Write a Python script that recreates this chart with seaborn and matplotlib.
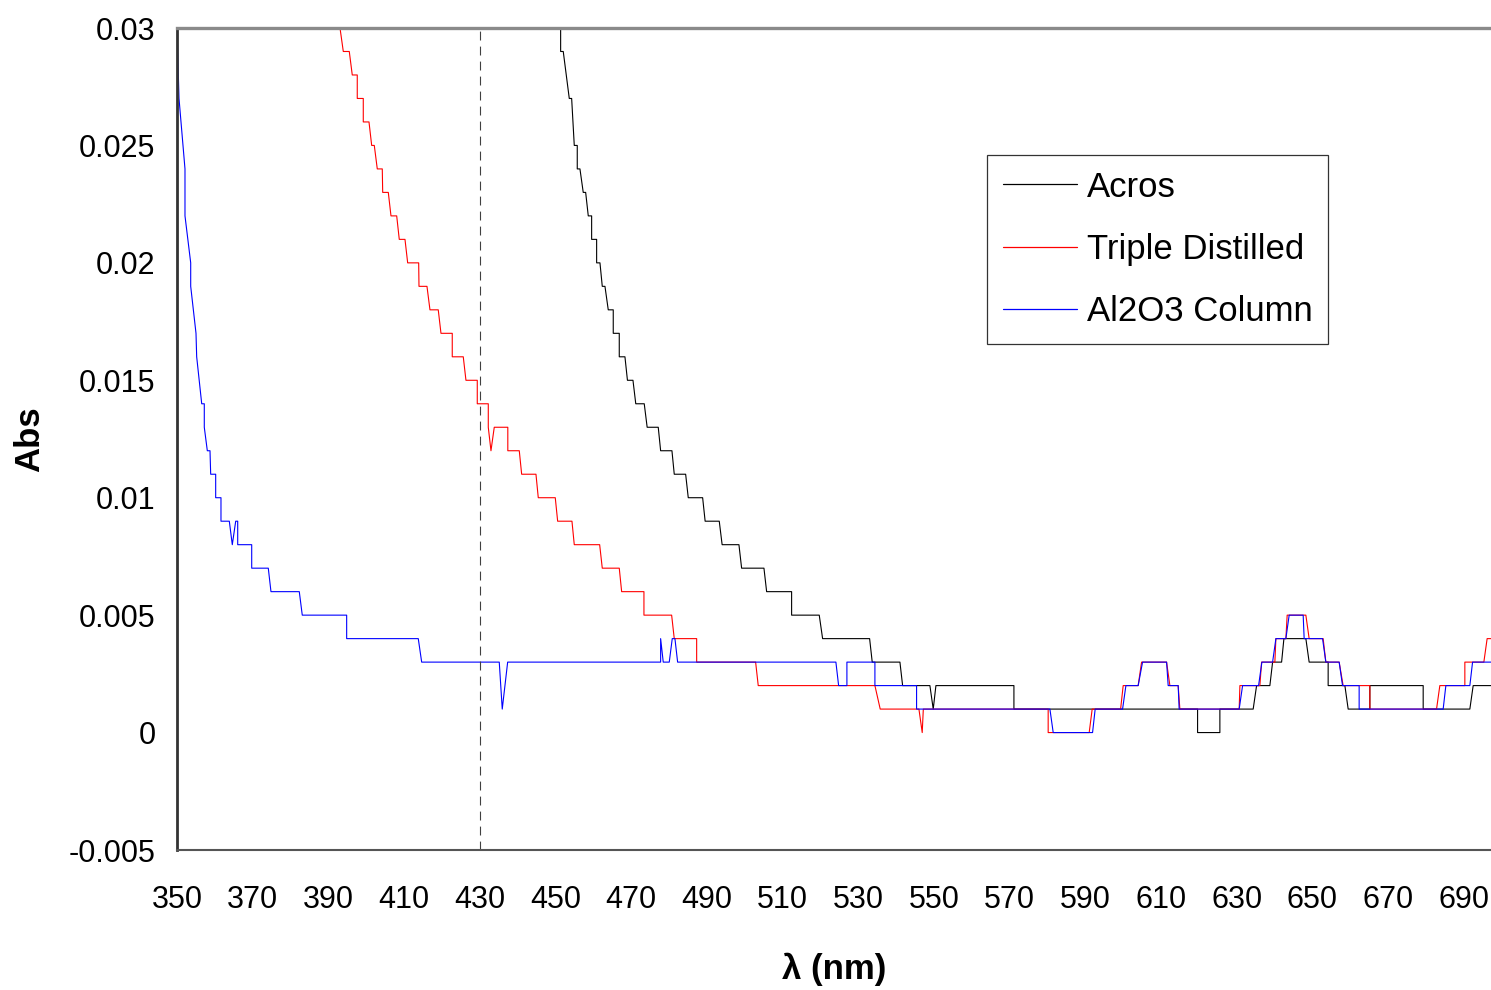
import pandas as pd
import numpy as np
import matplotlib.pyplot as plt
import seaborn as sns
from matplotlib.lines import Line2D

# -----------------------------
# Data: corner points of the stepped spectra (nm, Abs)
# -----------------------------
acros_nm = [451.37, 451.37, 452.06, 453.65, 454.28, 454.97, 455.76, 455.76, 456.47, 457.34,
            457.98, 458.67, 459.56, 459.56, 460.88, 460.88, 461.76, 462.37, 463.08, 463.95,
            465.27, 465.27, 466.86, 466.86, 468.36, 469.02, 470.48, 471.22, 473.46, 474.23,
            477.16, 477.79, 480.78, 481.39, 484.40, 485.09, 488.89, 489.55, 493.28, 494.04,
            498.48, 499.19, 505.09, 505.80, 512.40, 512.40, 519.70, 520.59, 533.01, 533.70,
            541.02, 541.73, 548.94, 549.82, 550.53, 571.14, 571.14, 619.67, 619.67, 625.56,
            625.56, 634.36, 635.26, 638.77, 639.49, 641.87, 642.48, 648.28, 649.15, 654.17,
            654.17, 658.59, 659.46, 665.19, 665.19, 679.28, 679.28, 691.61, 692.49, 697.2]
acros_abs = [0.030, 0.029, 0.029, 0.027, 0.027, 0.025, 0.025, 0.024, 0.024, 0.023,
             0.023, 0.022, 0.022, 0.021, 0.021, 0.020, 0.020, 0.019, 0.019, 0.018,
             0.018, 0.017, 0.017, 0.016, 0.016, 0.015, 0.015, 0.014, 0.014, 0.013,
             0.013, 0.012, 0.012, 0.011, 0.011, 0.010, 0.010, 0.009, 0.009, 0.008,
             0.008, 0.007, 0.007, 0.006, 0.006, 0.005, 0.005, 0.004, 0.004, 0.003,
             0.003, 0.002, 0.002, 0.001, 0.002, 0.002, 0.001, 0.001, 0.000, 0.000,
             0.001, 0.001, 0.002, 0.002, 0.003, 0.003, 0.004, 0.004, 0.003, 0.003,
             0.002, 0.002, 0.001, 0.001, 0.002, 0.002, 0.001, 0.001, 0.002, 0.002]

triple_nm = [393.07, 393.94, 395.52, 396.31, 397.63, 397.63, 399.22, 399.22, 400.73, 401.44,
             402.13, 402.92, 404.24, 404.35, 405.83, 406.54, 408.05, 408.73, 410.24, 410.95,
             413.86, 413.94, 416.05, 416.84, 419.03, 419.75, 422.73, 422.73, 425.64, 426.35,
             429.34, 429.34, 432.25, 432.25, 432.96, 433.83, 437.41, 437.41, 440.44, 441.07,
             444.85, 445.46, 449.95, 450.58, 454.36, 454.97, 461.68, 462.37, 466.86, 467.49,
             473.38, 473.38, 480.70, 481.39, 487.31, 487.31, 502.89, 503.58, 534.41, 535.81,
             546.04, 546.91, 547.20, 580.19, 580.19, 591.03, 591.82, 599.33, 600.01, 603.97,
             604.87, 611.48, 612.35, 614.54, 614.99, 630.66, 630.85, 636.13, 636.58, 640.09,
             640.36, 643.00, 643.34, 648.28, 649.15, 652.85, 653.56, 657.08, 658.13, 665.19,
             665.19, 682.81, 683.68, 690.29, 690.29, 695.31, 696.18, 697.2]
triple_abs = [0.030, 0.029, 0.029, 0.028, 0.028, 0.027, 0.027, 0.026, 0.026, 0.025,
              0.025, 0.024, 0.024, 0.023, 0.023, 0.022, 0.022, 0.021, 0.021, 0.020,
              0.020, 0.019, 0.019, 0.018, 0.018, 0.017, 0.017, 0.016, 0.016, 0.015,
              0.015, 0.014, 0.014, 0.013, 0.012, 0.013, 0.013, 0.012, 0.012, 0.011,
              0.011, 0.010, 0.010, 0.009, 0.009, 0.008, 0.008, 0.007, 0.007, 0.006,
              0.006, 0.005, 0.005, 0.004, 0.004, 0.003, 0.003, 0.002, 0.002, 0.001,
              0.001, 0.000, 0.001, 0.001, 0.000, 0.000, 0.001, 0.001, 0.002, 0.002,
              0.003, 0.003, 0.002, 0.002, 0.001, 0.001, 0.002, 0.002, 0.003, 0.003,
              0.004, 0.004, 0.005, 0.005, 0.004, 0.004, 0.003, 0.003, 0.002, 0.002,
              0.001, 0.001, 0.002, 0.002, 0.003, 0.003, 0.004, 0.004]

column_nm = [350.00, 350.53, 352.11, 352.11, 353.62, 353.62, 355.02, 355.20, 356.53, 357.21,
             357.21, 358.01, 358.72, 358.90, 360.22, 360.22, 361.62, 361.62, 363.82, 364.61,
             365.51, 366.04, 366.04, 369.74, 369.74, 374.12, 374.83, 382.31, 383.10, 394.83,
             394.83, 413.75, 414.65, 435.15, 435.94, 437.37, 477.79, 477.79, 478.48, 480.07,
             480.86, 481.57, 482.28, 524.10, 524.82, 527.01, 527.01, 534.41, 534.41, 545.42,
             545.42, 580.65, 581.52, 591.92, 592.61, 599.85, 600.73, 603.97, 605.13, 611.48,
             611.90, 614.54, 614.80, 630.66, 631.56, 635.79, 636.66, 639.49, 640.36, 643.00,
             643.87, 647.57, 647.83, 652.69, 653.56, 657.08, 657.97, 662.36, 662.36, 684.56,
             685.27, 691.61, 692.33, 697.2]
column_abs = [0.030, 0.027, 0.024, 0.022, 0.020, 0.019, 0.017, 0.016, 0.014, 0.014,
              0.013, 0.012, 0.012, 0.011, 0.011, 0.010, 0.010, 0.009, 0.009, 0.008,
              0.009, 0.009, 0.008, 0.008, 0.007, 0.007, 0.006, 0.006, 0.005, 0.005,
              0.004, 0.004, 0.003, 0.003, 0.001, 0.003, 0.003, 0.004, 0.003, 0.003,
              0.004, 0.004, 0.003, 0.003, 0.002, 0.002, 0.003, 0.003, 0.002, 0.002,
              0.001, 0.001, 0.000, 0.000, 0.001, 0.001, 0.002, 0.002, 0.003, 0.003,
              0.002, 0.002, 0.001, 0.001, 0.002, 0.002, 0.003, 0.003, 0.004, 0.004,
              0.005, 0.005, 0.004, 0.004, 0.003, 0.003, 0.002, 0.002, 0.001, 0.001,
              0.002, 0.002, 0.003, 0.003]

series_names = ["Acros", "Triple Distilled", "Al2O3 Column"]
series_colors = ["black", "#FF0000", "#0000FF"]
x_ticks = list(range(350, 691, 20))
y_ticks = [-0.005, 0.0, 0.005, 0.01, 0.015, 0.02, 0.025, 0.03]
marker_nm = 430

# -----------------------------
# Long-form table for seaborn
# -----------------------------
frames = []
for name, xs, ys in zip(series_names,
                        [acros_nm, triple_nm, column_nm],
                        [acros_abs, triple_abs, column_abs]):
    frames.append(pd.DataFrame({"nm": xs, "abs": ys, "series": name,
                                "order": np.arange(len(xs))}))
df = pd.concat(frames, ignore_index=True)

# -----------------------------
# Plot
# -----------------------------
sns.set_style("white")
plt.rcParams['font.family'] = ['Liberation Sans', 'DejaVu Sans']
plt.rcParams['text.color'] = 'black'
plt.rcParams['axes.labelcolor'] = 'black'

fig = plt.figure(figsize=(14.91, 9.9), dpi=100)
ax = fig.add_axes([177 / 1491, 1 - 850 / 990, 1 - 177 / 1491, (850 - 28) / 990])

for name, color in zip(series_names, series_colors):
    sub = df[df["series"] == name]
    sns.lineplot(data=sub, x="nm", y="abs", sort=False, estimator=None,
                 color=color, linewidth=0.8, ax=ax, legend=False)

ax.axvline(marker_nm, color="#404040", linewidth=0.8, linestyle=(0, (8, 5.5)))

ax.set_xlim(350, 697.2)
ax.set_ylim(-0.005, 0.03)
ax.set_xticks(x_ticks)
ax.set_yticks(y_ticks)
ax.set_yticklabels([f"{v:g}" for v in y_ticks])
ax.tick_params(axis="both", direction="out", length=6.5, width=1.2,
               color="#404040", labelsize=22, labelcolor="black")
ax.tick_params(axis="x", pad=19)
ax.tick_params(axis="y", pad=9)
ax.grid(False)

ax.spines["right"].set_visible(False)
ax.spines["top"].set_color("#8a8a8a")
ax.spines["top"].set_linewidth(2.4)
ax.spines["left"].set_color("#333333")
ax.spines["left"].set_linewidth(2.0)
ax.spines["bottom"].set_color("#555555")
ax.spines["bottom"].set_linewidth(1.5)

ax.set_xlabel("λ (nm)", fontsize=25, fontweight="bold", labelpad=27, color="black")
ax.set_ylabel("Abs", fontsize=25, fontweight="bold", labelpad=16, color="black")

handles = [Line2D([0], [0], color=c, linewidth=0.9) for c in series_colors]
leg = ax.legend(handles, series_names, loc="upper left",
                bbox_to_anchor=(0.6164, 0.8455), borderaxespad=0,
                fontsize=25, frameon=True, fancybox=False,
                handlelength=2.15, handletextpad=0.27, labelspacing=0.84,
                borderpad=0.45, labelcolor="black")
leg.get_frame().set_edgecolor("black")
leg.get_frame().set_linewidth(0.9)

fig.savefig("out.png", dpi=100)
